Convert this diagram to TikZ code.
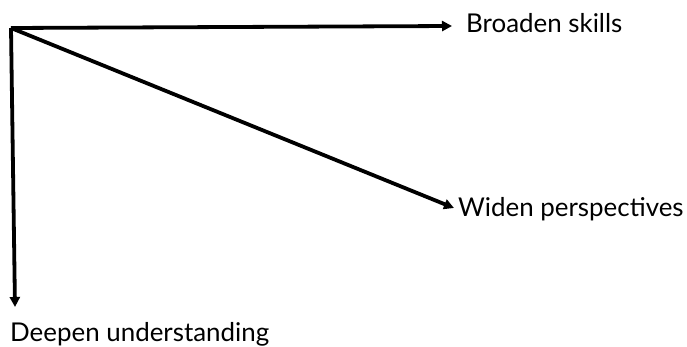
\documentclass[tikz,border=0pt]{standalone}
\usepackage{fontspec}
\setmainfont{Lato}
\usetikzlibrary{arrows.meta}
\tikzset{
  ray/.style={line width=3.8pt, -{Triangle[length=10pt,width=10pt]}},
  lbl/.style={anchor=base west, inner sep=0pt, font=\fontsize{25.9}{30}\selectfont},
}
\begin{document}
\begin{tikzpicture}[x=1pt,y=-1pt]
  \useasboundingbox (0,0) rectangle (687,347);
  \coordinate (o) at (11,28);
  \coordinate (b) at (452,26);
  \coordinate (w) at (454,208);
  \coordinate (d) at (15,307);
  \draw[ray] (o) -- (b);
  \draw[ray] (o) -- (w);
  \draw[ray] (o) -- (d);
  \node[lbl] (tb) at (466,33) {Broaden skills};
  \node[lbl] (tw) at (458,217) {Widen perspectives};
  \node[lbl] (td) at (10,341) {Deepen understanding};
\end{tikzpicture}
\end{document}
